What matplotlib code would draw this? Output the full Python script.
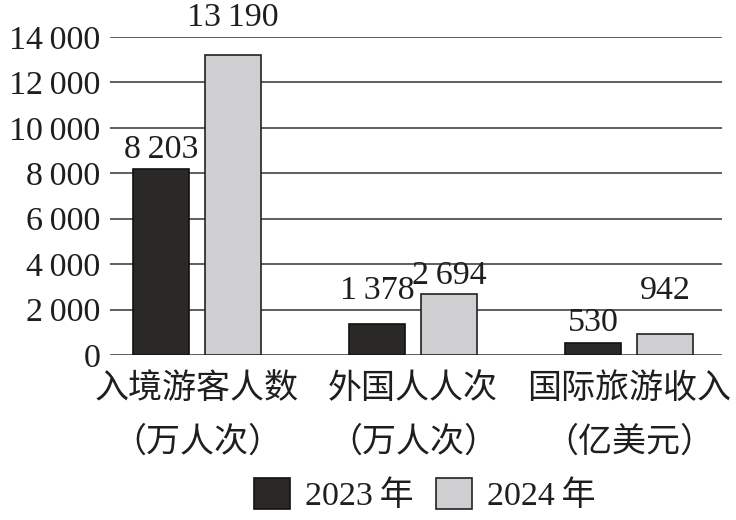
import matplotlib
matplotlib.use("Agg")
import matplotlib.pyplot as plt
from matplotlib.patches import Patch

plt.rcParams['font.family'] = ['Liberation Serif', 'Noto Sans CJK SC', 'DejaVu Sans']

categories = ["入境游客人数\n（万人次）", "外国人人次\n（万人次）", "国际旅游收入\n（亿美元）"]
series_names = ["2023\u2009年", "2024\u2009年"]
values_2023 = [8203, 1378, 530]
values_2024 = [13190, 2694, 942]
yticks = [0, 2000, 4000, 6000, 8000, 10000, 12000, 14000]

# label offsets (pixels above bar top), style only
label_offsets = [[4, 22], [18, 3], [5, 28]]

def fmt(v):
    s = f"{v:,}"
    return s.replace(",", "\u2009")

FS = 24.5
dark = "#2b2927"
light = "#cfcfd2"
txt = "#1e1e1e"

fig = plt.figure(figsize=(7.36, 5.2), dpi=100)
ax = fig.add_axes([110/736, 165/520, 612/736, 318/520])

x = list(range(len(categories)))
w = 0.259
off = 0.1667
b1 = ax.bar([i - off for i in x], values_2023, width=w, color=dark, edgecolor="#111111", linewidth=1.2, zorder=3)
b2 = ax.bar([i + off for i in x], values_2024, width=w, color=light, edgecolor="#222222", linewidth=1.2, zorder=3)

for i, (bar, v) in enumerate(zip(b1, values_2023)):
    ax.annotate(fmt(v), (bar.get_x() + bar.get_width()/2, v), xytext=(0, label_offsets[i][0]*0.72),
                textcoords="offset points", ha="center", va="bottom", fontsize=FS, color=txt,
                annotation_clip=False)
for i, (bar, v) in enumerate(zip(b2, values_2024)):
    ax.annotate(fmt(v), (bar.get_x() + bar.get_width()/2, v), xytext=(0, label_offsets[i][1]*0.72),
                textcoords="offset points", ha="center", va="bottom", fontsize=FS, color=txt,
                annotation_clip=False)

ax.set_ylim(0, 14000)
ax.set_xlim(-0.403, 2.43)
ax.set_yticks(yticks)
ax.set_yticklabels([fmt(t) for t in yticks], fontsize=FS, color=txt)
ax.yaxis.grid(True, color="#333333", linewidth=1.1, zorder=0)
ax.set_axisbelow(True)
ax.tick_params(axis="y", length=0, pad=7)
ax.tick_params(axis="x", length=0, pad=13)
ax.set_xticks(x)
ax.set_xticklabels(categories, fontsize=FS, color=txt)
for lbl in ax.get_xticklabels():
    lbl.set_linespacing(1.85)
for s in ax.spines.values():
    s.set_visible(False)

handles = [Patch(facecolor=dark, edgecolor="#111111", linewidth=1.2),
           Patch(facecolor=light, edgecolor="#222222", linewidth=1.2)]
fig.legend(handles, series_names, loc="center", bbox_to_anchor=(425/736, 25/520), ncol=2,
           frameon=False, fontsize=FS, handlelength=1.05, handleheight=1.05,
           handletextpad=0.45, columnspacing=0.65, labelcolor=txt)

fig.savefig("out.png", dpi=100, facecolor="white")
